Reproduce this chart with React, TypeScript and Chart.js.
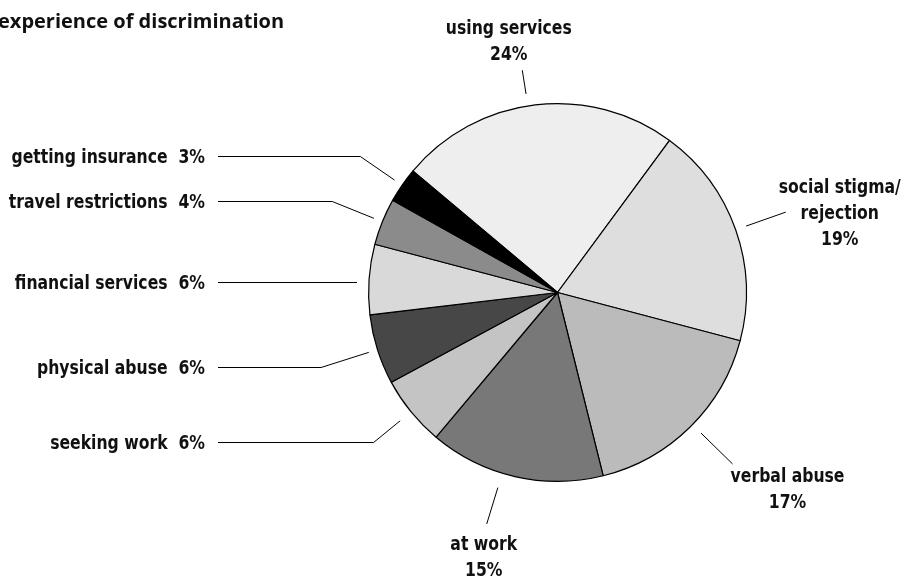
import React, { useEffect, useRef } from "react";
import { Chart, registerables } from "chart.js";

Chart.register(...registerables);

const chartTitle = "experience of discrimination";
const categories = [
  "using services",
  "social stigma/\nrejection",
  "verbal abuse",
  "at work",
  "seeking work",
  "physical abuse",
  "financial services",
  "travel restrictions",
  "getting insurance",
];
const shares = [24, 19, 17, 15, 6, 6, 6, 4, 3];
const sliceColors = [
  "#eeeeee",
  "#dedede",
  "#bbbbbb",
  "#787878",
  "#c4c4c4",
  "#474747",
  "#d9d9d9",
  "#8b8b8b",
  "#000000",
];

const LABEL_FONT = 'bold 19px "Liberation Sans Narrow", "DejaVu Sans Condensed", "Arial Narrow", sans-serif';
const LABEL_SCALE = 0.915;
const TITLE_FONT = 'bold 20px "Open Sans", "Noto Sans", sans-serif';

function drawText(ctx: CanvasRenderingContext2D, text: string, x: number, y: number, sx: number) {
  ctx.save();
  ctx.translate(x, y);
  ctx.scale(sx, 1);
  ctx.fillText(text, 0, 0);
  ctx.restore();
}

const labelPlugin = {
  id: "pieLabels",
  afterDraw(chart: any, _args: any, opts: any) {
    const ctx = chart.ctx as CanvasRenderingContext2D;
    const meta = chart.getDatasetMeta(0);
    const ds = chart.data.datasets[0];
    ctx.save();
    ctx.strokeStyle = "#000";
    ctx.lineWidth = 1;
    ctx.fillStyle = "#111";

    // title
    ctx.font = TITLE_FONT;
    ctx.textAlign = "left";
    ctx.textBaseline = "middle";
    ctx.fillText(chartTitle, opts.titleX, opts.titleY);

    ctx.font = LABEL_FONT;
    const pointAt = (arc: any, shiftDeg: number, r: number) => {
      const a = (arc.startAngle + arc.endAngle) / 2 + (shiftDeg * Math.PI) / 180;
      return { x: arc.x + Math.cos(a) * r, y: arc.y + Math.sin(a) * r, dx: Math.cos(a), dy: Math.sin(a) };
    };

    // radial labels
    for (const L of opts.radial) {
      const arc = meta.data[L.index];
      const p1 = pointAt(arc, L.shift, L.r1);
      const p2 = pointAt(arc, L.shift, L.r2);
      ctx.beginPath();
      ctx.moveTo(p1.x, p1.y);
      ctx.lineTo(p2.x, p2.y);
      ctx.stroke();
      const lines = String(chart.data.labels[L.index]).split("\n");
      lines.push(ds.data[L.index] + "%");
      const cx = p2.x + L.dx;
      const cy = p2.y + L.dy;
      ctx.textAlign = "center";
      ctx.textBaseline = "middle";
      lines.forEach((t: string, i: number) => {
        drawText(ctx, t, cx, cy + (i - (lines.length - 1) / 2) * opts.lineHeight, LABEL_SCALE);
      });
    }

    // left labels
    for (const L of opts.left) {
      const arc = meta.data[L.index];
      const p = pointAt(arc, 0, L.r1);
      const y = Math.round(L.y) + 0.5;
      ctx.beginPath();
      const dyNeed = y - p.y;
      if (Math.abs(dyNeed) > 5 && Math.sign(dyNeed) === Math.sign(p.dy)) {
        const t = dyNeed / p.dy;
        const ex = p.x + p.dx * t;
        ctx.moveTo(p.x, p.y);
        ctx.lineTo(ex, y);
        ctx.lineTo(opts.lineLeft, y);
      } else {
        ctx.moveTo(p.x - 3, y);
        ctx.lineTo(opts.lineLeft, y);
      }
      ctx.stroke();
      ctx.textAlign = "right";
      ctx.textBaseline = "middle";
      drawText(ctx, chart.data.labels[L.index] + "  " + ds.data[L.index] + "%", opts.textRight, L.y + 2, LABEL_SCALE);
    }
    ctx.restore();
  },
};

export default function App() {
  const ref = useRef<HTMLCanvasElement | null>(null);
  useEffect(() => {
    if (!ref.current) return;
    const chart = new Chart(ref.current, {
      type: "pie",
      data: {
        labels: categories,
        datasets: [
          {
            data: shares,
            backgroundColor: sliceColors,
            borderColor: "#000",
            borderWidth: 1.2,
            hoverBorderWidth: 1.2,
          },
        ],
      },
      options: {
        responsive: false,
        animation: false,
        rotation: -50,
        layout: { padding: { left: 368, right: 161, top: 103, bottom: 97 } },
        plugins: {
          legend: { display: false },
          tooltip: { enabled: false },
          pieLabels: {
            titleX: -2,
            titleY: 22,
            lineHeight: 26,
            lineLeft: 218,
            textRight: 205,
            radial: [
              { index: 0, shift: -2.2, r1: 201, r2: 225, dx: -13.5, dy: -28.5 },
              { index: 1, shift: 0, r1: 200, r2: 242, dx: 54, dy: 2 },
              { index: 2, shift: -1, r1: 201, r2: 245, dx: 55, dy: 26 },
              { index: 3, shift: 4, r1: 204, r2: 242, dx: -3, dy: 34 },
            ],
            left: [
              { index: 8, y: 156, r1: 198 },
              { index: 7, y: 201, r1: 198 },
              { index: 6, y: 282, r1: 198 },
              { index: 5, y: 367, r1: 198 },
              { index: 4, y: 442, r1: 203 },
            ],
          },
        } as any,
      },
      plugins: [labelPlugin],
    });
    return () => chart.destroy();
  }, []);
  return (
    <div style={{ position: "fixed", left: 0, top: 0, width: 908, height: 579, background: "#fff" }}>
      <canvas ref={ref} width={908} height={579} style={{ display: "block", width: 908, height: 579 }} />
    </div>
  );
}
